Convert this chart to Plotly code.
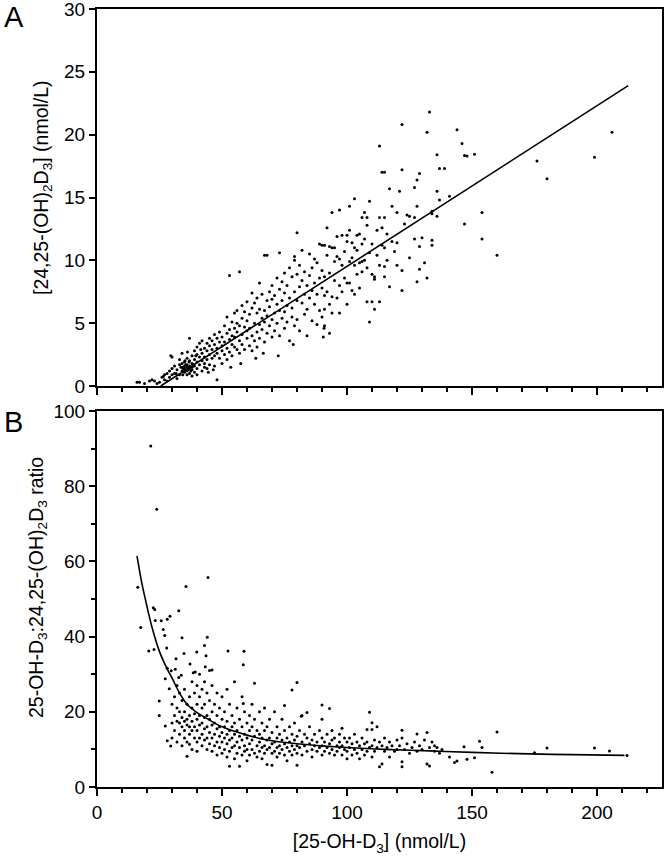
import plotly.graph_objects as go
from plotly.subplots import make_subplots

# ---------------- Panel A : 24,25-(OH)2D3 vs 25-OH-D3 (x, y) ----------------
a_pts_15_33 = [(16,0.3),(17,0.3),(19,0.2),(21,0.4),(22,0.5),(23,0.4),(24,0.2),(25,0.3),(26,0.7),(27,0.9),
               (27,0.5),(28,1.0),(28,0.4),(29,1.2),(29,0.7),(30,1.4),(30,2.3),(30,0.9),(31,1.0),(31,1.6),
               (32,0.6),(32,1.3),(33,1.7),(33,0.9),(33,2.1),(29.5,2.4),(26.5,0.75),(31.6,1.0)]
a_pts_34_40 = [(34,1.5),(34,1.2),(34,1.8),(34,2.6),(35,1.4),(35,1.6),(35,1.1),(35,1.9),(35,1.3),(36,1.5),
               (36,1.7),(36,1.2),(36,2.2),(36,0.9),(37,1.4),(37,1.6),(37,2.0),(37,3.8),(37,1.0),(38,1.5),
               (38,1.3),(38,2.4),(38,1.8),(38,0.8),(39,1.6),(39,2.8),(39,1.1),(39,2.1),(40,1.9),(40,1.4),
               (40,2.5),(40,3.1),(40,0.9),(34.5,1.4),(35.5,1.7),(36.5,1.3),(35.2,2.0),(33.6,1.5),(36.8,1.9),
               (37.5,1.2),(38.5,1.7),(34.3,0.9),(39.5,2.4),(36.2,2.7)]
a_pts_41_50 = [(41,1.7),(41,2.3),(41,3.4),(42,1.2),(42,2.6),(42,3.6),(42,2.0),(43,1.8),(43,3.0),(43,2.3),
               (43,1.5),(44,2.8),(44,3.4),(44,1.4),(44,2.1),(45,3.2),(45,2.5),(45,1.7),(45,3.8),(46,2.9),
               (46,2.2),(46,3.6),(47,2.4),(47,3.3),(47,1.6),(47,4.1),(48,3.0),(48,0.5),(48,2.6),(48,3.8),
               (49,3.5),(49,2.2),(49,4.3),(50,2.8),(50,3.9),(50,3.2),(50,1.8),(44.5,1.1),(46.5,1.3),(41.5,2.9)]
a_pts_51_60 = [(51,4.8),(51,2.5),(51,3.5),(52,4.2),(52,3.0),(52,5.5),(52,2.1),(53,3.7),(53,4.5),(53,2.7),
               (53,8.8),(54,5.1),(54,3.3),(54,4.0),(54,2.4),(55,4.6),(55,3.1),(55,5.8),(55,3.9),(56,4.3),
               (56,2.9),(56,6.0),(56,5.0),(57,9.1),(57,3.6),(57,4.8),(57,2.6),(58,5.4),(58,4.1),(58,3.3),
               (58,6.4),(59,4.7),(59,2.9),(59,5.9),(60,3.8),(60,5.2),(60,6.7),(60,4.4),(53.5,1.5),(57.5,1.8)]
a_pts_61_70 = [(61,3.2),(61,5.7),(61,4.6),(62,6.2),(62,4.0),(62,2.8),(62,7.4),(63,5.0),(63,3.6),(63,6.6),
               (64,4.3),(64,5.8),(64,7.0),(64,3.1),(65,4.9),(65,6.1),(65,8.2),(65,3.8),(66,5.4),(66,4.5),
               (66,7.3),(67,10.4),(67,6.0),(67,3.5),(67,5.1),(68,10.4),(68,6.8),(68,4.2),(68,5.6),(69,7.5),
               (69,4.8),(69,6.3),(70,5.3),(70,8.0),(70,3.9),(70,6.9),(63.5,2.2),(66.5,2.6)]
a_pts_71_80 = [(71,7.2),(71,5.8),(71,4.4),(72,6.5),(72,8.6),(72,5.0),(73,10.6),(73,7.7),(73,6.0),(73,4.0),
               (74,6.8),(74,5.4),(74,8.3),(75,7.4),(75,5.9),(75,9.0),(75,4.6),(76,6.4),(76,8.0),(76,5.1),
               (77,7.0),(77,9.4),(77,3.6),(78,6.2),(78,8.7),(78,5.5),(79,10.0),(79,10.3),(79,7.5),(79,4.8),
               (80,12.2),(80,6.8),(80,8.9),(80,5.3),(72.5,2.4),(78.5,3.3)]
a_pts_81_90 = [(81,7.9),(81,9.6),(81,4.4),(82,6.6),(82,8.4),(82,10.8),(83,5.7),(83,7.3),(83,9.1),(84,6.1),
               (84,8.0),(84,4.0),(85,10.5),(85,7.0),(85,8.8),(86,5.2),(86,9.4),(86,7.6),(87,6.5),(87,10.1),
               (87,8.2),(88,4.9),(88,7.3),(88,9.8),(89,6.0),(89,8.6),(89,11.3),(90,11.2),(90,7.8),(90,5.5),
               (90,9.2),(90.5,3.9),(90.8,4.6)]
a_pts_91_100 = [(91,6.1),(91,8.7),(91,11.2),(91,7.2),(91,4.8),(92,10.4),(92,12.6),(92,7.5),(93,11.1),(93,6.5),
                (93,9.0),(93,4.2),(94,13.8),(94,11.0),(94,7.1),(94,5.8),(95,9.9),(95,11.0),(95,8.4),(96,10.3),
                (96,11.9),(96,7.0),(97,14.0),(97,10.1),(97,8.0),(97,5.8),(98,12.0),(98,9.6),(98,7.5),(99,10.7),
                (99,8.6),(100,12.0),(100,11.5),(100,8.2),(100,6.5)]
a_pts_101_110 = [(101,14.3),(101,12.4),(101,9.9),(101,8.2),(102,11.4),(102,7.6),(102,10.2),(103,14.9),(103,11.0),
                 (103,9.6),(103,7.3),(104,10.8),(104,12.0),(104,8.9),(105,12.1),(105,7.8),(105,9.8),(106,11.3),
                 (106,13.4),(106,9.1),(106,9.9),(107,13.8),(107,11.7),(107,10.0),(108,12.8),(108,13.4),(108,9.4),
                 (108,6.7),(109,14.7),(109,10.6),(109,5.1),(110,11.3),(110,6.7),(110,8.9)]
a_pts_111_141 = [(111,8.7),(111,8.5),(111,6.1),(112,10.4),(112,12.4),(113,19.1),(113,13.4),(113,9.6),(113,6.7),
                 (114,17.0),(114,11.2),(114,12.6),(115,17.0),(115,11.0),(115,13.4),(115,8.7),(115,9.5),(116,10.0),
                 (116,12.1),(117,15.7),(117,7.9),(118,14.3),(118,11.5),(119,10.7),(120,13.8),(120,11.4),(120,9.6),
                 (121,15.5),(122,20.8),(122,17.2),(122,9.2),(122,7.6),(123,12.9),(124,13.6),(125,13.5),(125,10.2),
                 (127,13.4),(127,15.8),(127,11.7),(128,16.4),(128,14.3),(128,8.3),(129,16.9),(129,11.1),(129,9.3),
                 (130,11.8),(131,9.8),(132,20.2),(132,8.6),(133,21.8),(134,13.9),(134,13.7),(134,11.6),(134,11.2),
                 (136,13.5),(136,15.5),(136,18.4),(137,14.8),(137,17.3),(139,17.3),(141,15.1)]
a_pts_142_up = [(144,20.4),(146,19.3),(147,12.9),(147,18.35),(148,18.3),(151,18.45),(154,13.8),(154,11.7),
                (160,10.4),(176,17.9),(180,16.5),(199,18.2),(206,20.2)]

a_groups = [a_pts_15_33, a_pts_34_40, a_pts_41_50, a_pts_51_60, a_pts_61_70, a_pts_71_80,
            a_pts_81_90, a_pts_91_100, a_pts_101_110, a_pts_111_141, a_pts_142_up]
a_x = [p[0] for g in a_groups for p in g]
a_y = [p[1] for g in a_groups for p in g]

# regression line
fit_a_x = [25.5, 212.5]
fit_a_y = [0.0, 23.9]

# ---------------- Panel B : ratio vs 25-OH-D3 (x, y) ----------------
b_pts_high = [(21.5,90.7),(23.9,73.9),(16.3,53.1),(22.5,47.7),(23.1,47.2),(35.6,53.3),(44.4,55.7),(32.7,46.9),
              (29.2,45.4),(23.3,44.3),(25.7,44.2),(28.1,44.6),(17.5,42.4),(20.7,36.2),(22.8,36.6),(26.5,41.9),
              (27.1,40.3),(27.9,37.0),(34.0,39.7),(34.8,35.5),(52.4,36.2),(58.8,36.1),(58.5,32.5),(44.1,39.8),
              (43.0,37.6),(39.9,35.9),(43.6,34.9),(31.6,34.1),(37.2,32.7),(38.5,30.4),(39.3,30.6),(46.0,31.1),
              (43.3,32.0),(28.1,31.6),(29.7,30.9),(31.3,31.3),(32.7,29.1),(33.7,29.7),(27.3,28.8),(28.9,26.1),
              (24.9,22.9),(24.9,19.0),(27.3,16.2),(28.1,12.3),(29.5,10.9),(58.5,22.2),(81.7,18.8)]
b_pts_30_40 = [(30,22),(30,17),(30,13),(31,24),(31,19),(31,15),(32,27),(32,21),(32,17.5),(32,12),(33,25),(33,20),
               (33,17),(33,14),(34,23),(34,18.5),(34,16),(34,11),(35,26),(35,20),(35,17.5),(35,15),(35,13),(36,22),
               (36,18),(36,16.5),(36,12),(36,8.2),(37,24),(37,19),(37,16),(37,14),(37,11.4),(38,28),(38,21),
               (38,17.5),(38,15),(38,10),(39,25),(39,19.5),(39,16),(39,13),(40,27),(40,22),(40,18),(40,15),
               (40,12),(40,9.5)]
b_pts_41_50 = [(41,30),(41,24),(41,19),(41,16.5),(41,13),(42,26),(42,21),(42,17),(42,14),(42,11),(43,28),(43,22),
               (43,18.5),(43,15.5),(43,12.5),(44,25),(44,19),(44,16),(44,13),(44,10),(45,31),(45,23),(45,18),
               (45,14.5),(45,11.5),(46,27),(46,20),(46,16.5),(46,13),(46,9.5),(47,22),(47,17),(47,14),(47,11),
               (48,25),(48,19),(48,15.5),(48,12),(48,8.5),(49,21),(49,16),(49,13.5),(49,10.5),(50,24),(50,18),
               (50,14.5),(50,12),(50,9)]
b_pts_51_60 = [(51,20),(51,16),(51,13),(51,10),(52,26),(52,17.5),(52,14),(52,11.5),(52,8),(53,22),(53,15),
               (53,12.5),(53,9.5),(53,5.5),(54,19),(54,16),(54,13),(54,10.5),(55,28),(55,17),(55,14),(55,11),
               (55,7.5),(56,21),(56,15),(56,12),(56,9),(57,5.5),(57,18),(57,13.5),(57,10.5),(58,24),(58,16),
               (58,12.5),(58,8.5),(59,20),(59,14),(59,11),(59,9.5),(60,17),(60,13),(60,10),(60,7)]
b_pts_61_70 = [(61,19),(61,15),(61,11.5),(61,8.5),(62,22),(62,16),(62,12.5),(62,10),(63,27.6),(63,18),(63,13.5),
               (63,9),(64,15),(64,11),(64,8),(65,20),(65,14),(65,12),(65,9.5),(66,17),(66,13),(66,10.5),(66,7.5),
               (67,21),(67,15),(67,11),(67,9),(68,16),(68,12.5),(68,10),(68,6),(69,18),(69,13),(69,10.5),
               (70,14.5),(70,11.5),(70,9),(70,5.8)]
b_pts_71_80 = [(71,20),(71,12),(71,9.5),(72,16),(72,13),(72,10.5),(72,8),(73,14),(73,11),(73,9),(74,18),(74,12.5),
               (74,10),(75,21.7),(75,15),(75,11.5),(75,8.5),(76,13),(76,10.5),(76,7),(77,16),(77,12),(77,9.5),
               (78,25.8),(78,14),(78,11),(78,8.5),(79,17),(79,12.5),(79,10),(80,27.8),(80,5.8),(80,13.5),(80,11),
               (80,9)]
b_pts_81_100 = [(81,15),(81,10.5),(82,19),(82,12),(82,8.5),(83,14),(83,11),(84,19.8),(84,13),(84,9.5),(85,16),
                (85,11.5),(86,12.5),(86,10),(86,8),(87,14),(87,11),(88,12),(88,9.5),(89,15),(89,10.5),(90,21.8),
                (90,18),(90,13),(90,11),(90,8.5),(91,12),(91,9.5),(92,14),(92,10.5),(93,20.9),(93,11.5),(93,9),
                (94,15),(94,12.5),(94,10),(95,13),(95,8.5),(96,11),(96,9.5),(97,14),(97,12),(97,10.5),(98,15.6),
                (98,11),(98,8.5),(99,13),(99,10),(100,12),(100,9.5),(100,7.5)]
b_pts_101_135 = [(101,13),(101,10.5),(102,11.5),(102,8.5),(103,14),(103,10),(104,12),(104,9),(105,11),(105,7.5),
                 (106,13),(106,10),(107,11.5),(107,8.5),(108,15.3),(108,12),(108,9.5),(109,19.9),(109,10.5),
                 (110,17.1),(110,15.3),(110,11),(110,8),(111,12.5),(111,9.5),(112,16),(112,10.5),(113,5.4),(113,12),
                 (114,6.1),(114,11),(115,13),(115,9.5),(116,10.5),(117,12),(117,8),(118,11),(119,9.5),(120,12.5),
                 (120,10),(121,11),(122,15.1),(122,6.7),(122,5.4),(122,13),(123,10),(124,11.5),(125,9),(126,10.5),
                 (127,12),(128,14.1),(128,9.5),(129,11),(130,10),(131,12.5),(132,14.5),(132,6.1),(133,5.6),
                 (133,10.5),(134,12),(135,9.5),(135,11)]
b_pts_136_up = [(136,10.5),(137,9),(138,10),(141,8),(143,6.5),(144,6.9),(146.8,10.7),(148,7.4),(151,7.8),
                (153,12.2),(154,10.5),(158,3.9),(160,14.6),(175,9.1),(180,10.4),(199,10.4),(205,9.6),(212,8.4)]

b_groups = [b_pts_high, b_pts_30_40, b_pts_41_50, b_pts_51_60, b_pts_61_70, b_pts_71_80,
            b_pts_81_100, b_pts_101_135, b_pts_136_up]
b_x = [p[0] for g in b_groups for p in g]
b_y = [p[1] for g in b_groups for p in g]

# fitted curve
fit_b_x = [16, 18, 20, 22, 25, 28, 30, 33, 36, 40, 44, 50, 60, 68, 80, 93, 100, 115, 133, 150, 173, 190, 211]
fit_b_y = [61.5, 54, 48, 42.5, 36, 31.5, 29, 25, 22, 19.8, 18.2, 16, 13.8, 12.5, 11.5, 10.8, 10.5, 10.0, 9.6,
           9.2, 8.8, 8.6, 8.4]

# ---------------- figure ----------------
W, H = 666, 857
FONT = "Liberation Sans, Arial, sans-serif"
TICK_SIZE = 19
XTITLE_SIZE = 19.5
YTITLE_SIZE = 19.5

def px_x(p):
    return p / W

def px_y(p):
    return 1 - p / H

fig = make_subplots(rows=2, cols=1)

mk = dict(size=3, color="black")
fig.add_trace(go.Scatter(x=a_x, y=a_y, mode="markers", marker=mk, showlegend=False), row=1, col=1)
fig.add_trace(go.Scatter(x=fit_a_x, y=fit_a_y, mode="lines", line=dict(color="black", width=1.6),
                         showlegend=False), row=1, col=1)
fig.add_trace(go.Scatter(x=b_x, y=b_y, mode="markers", marker=mk, showlegend=False), row=2, col=1)
fig.add_trace(go.Scatter(x=fit_b_x, y=fit_b_y, mode="lines", line=dict(color="black", width=1.6, shape="spline"),
                         showlegend=False), row=2, col=1)

xdom = [px_x(97), px_x(662)]
axis_common = dict(showline=True, linecolor="black", linewidth=2, mirror=True, showgrid=False,
                   zeroline=False, ticks="outside", tickcolor="black", tickwidth=1.5, automargin=False,
                   ticklabeloverflow="allow",
                   tickfont=dict(family=FONT, size=TICK_SIZE, color="black"))
minor_ticks = dict(dtick=10, ticklen=4, ticks="outside", tickcolor="black", tickwidth=1.5)

ytitle_font = dict(family=FONT, size=YTITLE_SIZE, color="black")

fig.update_layout(
    width=W, height=H, plot_bgcolor="white", paper_bgcolor="white",
    margin=dict(l=0, r=0, t=0, b=0, autoexpand=False),
    font=dict(family=FONT, color="black"),
    xaxis=dict(domain=xdom, range=[0, 226], dtick=50, ticklen=7, showticklabels=False,
               minor=minor_ticks, anchor="y", **axis_common),
    yaxis=dict(domain=[px_y(386), px_y(9)], range=[0, 30], dtick=5, ticklen=6, anchor="x", **axis_common),
    xaxis2=dict(domain=xdom, range=[0, 226], dtick=50, ticklen=7, anchor="y2", minor=minor_ticks,
                title=dict(text="[25-OH-D<sub>3</sub>] (nmol/L)", font=dict(family=FONT, size=XTITLE_SIZE),
                           standoff=13),
                **axis_common),
    yaxis2=dict(domain=[px_y(787), px_y(411)], range=[0, 100], dtick=20, ticklen=6, anchor="x2",
                minor=minor_ticks, **axis_common),
    annotations=[
        dict(text="[24,25-(OH)<sub>2</sub>D<sub>3</sub>] (nmol/L)", textangle=-90,
             x=px_x(42), y=px_y(188), xref="paper", yref="paper", xanchor="center", yanchor="middle",
             showarrow=False, font=ytitle_font),
        dict(text="25-OH-D<sub>3</sub>:24,25-(OH)<sub>2</sub>D<sub>3</sub> ratio", textangle=-90,
             x=px_x(37), y=px_y(588), xref="paper", yref="paper", xanchor="center", yanchor="middle",
             showarrow=False, font=ytitle_font),
        dict(text="A", x=px_x(2), y=px_y(-1), xref="paper", yref="paper", xanchor="left", yanchor="top",
             showarrow=False, font=dict(family=FONT, size=29, color="black")),
        dict(text="B", x=px_x(2), y=px_y(404), xref="paper", yref="paper", xanchor="left", yanchor="top",
             showarrow=False, font=dict(family=FONT, size=29, color="black")),
    ],
)

fig.write_html("out.html", config={"displayModeBar": False},
               post_script="document.body.style.margin='0px';")
